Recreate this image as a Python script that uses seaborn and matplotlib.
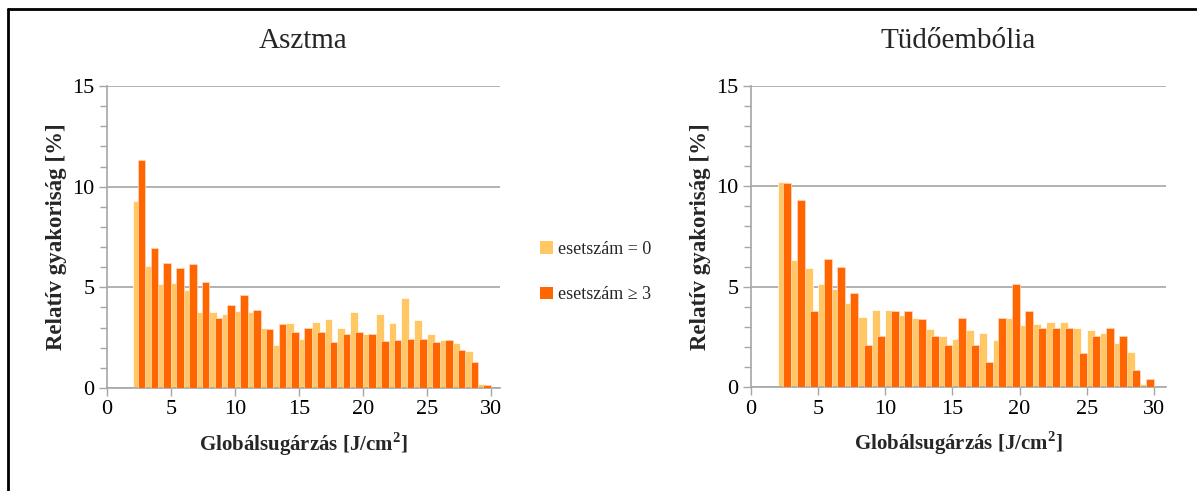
import matplotlib
matplotlib.use("Agg")
import matplotlib.pyplot as plt
from matplotlib.patches import Patch
from matplotlib.lines import Line2D
from matplotlib.ticker import MultipleLocator
import numpy as np
import pandas as pd
import seaborn as sns

# Global radiation bins [J/cm^2] (left edge of each 1-unit bin)
bins_asthma = list(range(2, 30))
bins_embolism = list(range(2, 31))

# Relative frequency [%] - Asztma
asthma_zero = [9.30, 6.05, 5.19, 5.24, 4.89, 3.78, 3.78, 3.68, 3.83, 3.78,
               3.00, 2.14, 3.23, 2.44, 3.28, 3.43, 2.99, 3.78, 2.69, 3.70,
               3.23, 4.49, 3.38, 2.69, 2.39, 2.24, 1.84, 0.20]
asthma_three = [11.31, 6.95, 6.20, 5.95, 6.15, 5.26, 3.50, 4.10, 4.64, 3.85,
                2.95, 3.18, 2.79, 2.99, 2.79, 2.29, 2.69, 2.79, 2.69, 2.34,
                2.39, 2.44, 2.44, 2.29, 2.39, 1.89, 1.29, 0.15]

# Relative frequency [%] - Tüdőembólia
embolism_zero = [10.21, 6.32, 5.92, 5.11, 4.86, 4.21, 3.51, 3.85, 3.85, 3.60,
                 3.45, 2.90, 2.55, 2.40, 2.85, 2.70, 2.35, 3.45, 3.10, 3.15,
                 3.25, 3.25, 2.95, 2.85, 2.70, 2.20, 1.76, 0.16, 0.07]
embolism_three = [10.16, 9.32, 3.81, 6.37, 5.97, 4.66, 2.10, 2.55, 3.80, 3.80,
                  3.40, 2.55, 2.10, 3.42, 2.10, 1.26, 3.42, 5.12, 3.81, 2.95,
                  2.95, 2.95, 1.71, 2.55, 2.95, 2.55, 0.86, 0.41, 0.00]

titles = ["Asztma", "Tüdőembólia"]
series_labels = ["esetszám = 0", "esetszám \u2265 3"]
x_label = "Globálsugárzás [J/cm$^\\mathbf{2}$]"
y_label = "Relatív gyakoriság [%]"

light = "#FFC864"
dark = "#FF6600"
grey = "#A6A6A6"

sns.set_theme(style="white")
plt.rcParams["font.family"] = ["Liberation Serif", "DejaVu Serif"]
plt.rcParams["mathtext.fontset"] = "custom"
plt.rcParams["mathtext.rm"] = "Liberation Serif"
plt.rcParams["mathtext.bf"] = "Liberation Serif:bold"

fig = plt.figure(figsize=(11.97, 4.91), dpi=100)
ax_l = fig.add_axes([107 / 1197, 103 / 491, 393 / 1197, 302 / 491])
ax_r = fig.add_axes([751 / 1197, 104 / 491, 415 / 1197, 301 / 491])

panels = [
    (ax_l, bins_asthma, asthma_zero, asthma_three, 30.7),
    (ax_r, bins_embolism, embolism_zero, embolism_three, 30.9),
]

bar_w = 0.6
for (ax, bins, zero, three, xmax), title in zip(panels, titles):
    df = pd.DataFrame({"bin": bins, "zero": zero, "three": three})
    # light bar sits on the left part of the bin, dark bar overlaps it from the right
    sns.barplot(x=df["bin"] + bar_w / 2, y=df["zero"], native_scale=True,
                width=bar_w, color=light, saturation=1, errorbar=None,
                edgecolor="white", linewidth=0.5, ax=ax, zorder=2)
    sns.barplot(x=df["bin"] + 1 - bar_w / 2, y=df["three"], native_scale=True,
                width=bar_w, color=dark, saturation=1, errorbar=None,
                edgecolor="#FFD9C0", linewidth=0.5, ax=ax, zorder=3)

    ax.set_xlim(0, xmax)
    ax.set_ylim(0, 15)
    ax.xaxis.set_major_locator(MultipleLocator(5))
    ax.yaxis.set_major_locator(MultipleLocator(5))
    ax.yaxis.set_minor_locator(MultipleLocator(1))
    ax.yaxis.grid(True, which="major", color=grey, linewidth=1.2, zorder=0)
    ax.set_axisbelow(True)
    for s in ["top", "right"]:
        ax.spines[s].set_visible(False)
    for s in ["left", "bottom"]:
        ax.spines[s].set_color(grey)
        ax.spines[s].set_linewidth(1.2)
    ax.tick_params(axis="both", which="both", direction="out", color=grey,
                   labelsize=16, labelcolor="black", width=1)
    ax.tick_params(axis="both", which="major", length=6, pad=3)
    ax.tick_params(axis="y", which="minor", length=5, left=True)
    ax.tick_params(axis="x", which="major", bottom=True)
    ax.tick_params(axis="y", which="major", left=True)
    ax.set_xlabel(x_label, fontsize=15, fontweight="bold", labelpad=8)
    ax.set_ylabel(y_label, fontsize=16.5, fontweight="bold", labelpad=4)
    ax.set_title(title, fontsize=21, pad=27)

handles = [Patch(facecolor=light, edgecolor="none", label=series_labels[0]),
           Patch(facecolor=dark, edgecolor="none", label=series_labels[1])]
fig.legend(handles=handles, loc="center left", bbox_to_anchor=(531 / 1197, 1 - 272 / 491),
           frameon=False, fontsize=13, handlelength=0.7, handleheight=0.7,
           handletextpad=0.3, labelspacing=1.6, borderpad=0)

# frame around the figure (left and top edges)
fig.add_artist(Line2D([8 / 1197, 8 / 1197], [0, 1 - 9 / 491], transform=fig.transFigure,
                      color="black", linewidth=2))
fig.add_artist(Line2D([8 / 1197, 1], [1 - 9 / 491, 1 - 9 / 491], transform=fig.transFigure,
                      color="black", linewidth=2))

fig.savefig("out.png", dpi=100)
